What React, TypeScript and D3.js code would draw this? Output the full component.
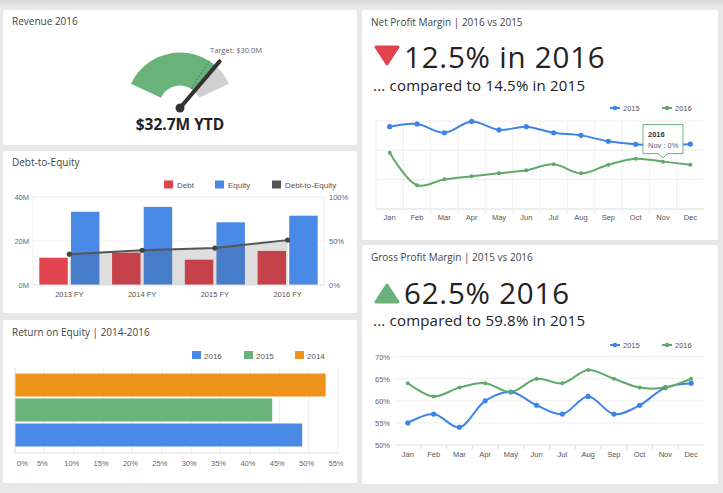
import React from 'react';
import * as d3 from 'd3';

// ---------- DATA ----------
const revenueValue = 32.7;
const revenueTarget = 30.0;
const revenueMax = 40;

const deCategories = ['2013 FY', '2014 FY', '2015 FY', '2016 FY'];
const debtValues = [12.4, 14.7, 11.5, 15.5];
const equityValues = [33.3, 35.5, 28.5, 31.5];
const deRatioValues = [35, 39.5, 42, 51];
const deLeftTicks = [0, 20, 40];
const deRightTicks = [0, 50, 100];

const roeSeries = ['2014', '2015', '2016'];
const roeValues = [52.9, 43.8, 48.9];
const roeTicks = [0, 5, 10, 15, 20, 25, 30, 35, 40, 45, 50, 55];

const months = ['Jan', 'Feb', 'Mar', 'Apr', 'May', 'Jun', 'Jul', 'Aug', 'Sep', 'Oct', 'Nov', 'Dec'];
const npm2015 = [15.61, 15.8, 15.2, 15.97, 15.39, 15.61, 15.2, 15.02, 14.62, 14.41, 14.3, 14.43];
const npm2016 = [13.84, 11.62, 12.02, 12.23, 12.43, 12.64, 13.05, 12.43, 13.02, 13.43, 13.23, 13.02];
const npmGrid = [10, 12, 14, 16];

const gpm2015 = [55, 57, 54, 60, 62, 59, 57, 61, 57, 59, 63, 64];
const gpm2016 = [64, 61, 63, 64, 62, 65, 64, 67, 65, 63, 63, 65];
const gpmTicks = [50, 55, 60, 65, 70];

// ---------- STYLE ----------
const FONT = '"Open Sans", sans-serif';
const AX = '"Liberation Sans", Arial, sans-serif';
const RED = '#e2444f';
const BLUE = '#4a8ae6';
const GREEN = '#69b27a';
const ORANGE = '#ef941b';
const LBLUE = '#3d84ea';
const LGREEN = '#5fa96c';

function Panel({ x, y, w, h }: any) {
  return <rect x={x} y={y} width={w} height={h} rx={2} fill="#fff" />;
}

function Gauge() {
  const cx = 180, cy = 106.5;
  const a = d3.scaleLinear().domain([0, revenueMax]).range([-65 * Math.PI / 180, 65 * Math.PI / 180]);
  const arc = d3.arc<any>().innerRadius(21).outerRadius(54);
  const green = arc({ startAngle: a(0), endAngle: a(revenueValue) } as any) as string;
  const gray = arc({ startAngle: a(revenueValue), endAngle: a(revenueMax) } as any) as string;
  const ta = a(revenueTarget), va = a(revenueValue);
  const pt = (ang: number, r: number) => [cx + r * Math.sin(ang), cy - r * Math.cos(ang)];
  const [t1x, t1y] = pt(ta, 21), [t2x, t2y] = pt(ta, 54);
  const [nx, ny] = pt(va, 60);
  return (
    <g>
      <path d={green} transform={`translate(${cx},${cy})`} fill={GREEN} />
      <path d={gray} transform={`translate(${cx},${cy})`} fill="#d0d0d0" />
      <line x1={t1x} y1={t1y} x2={t2x} y2={t2y} stroke="#4a6a50" strokeWidth={1} strokeDasharray="1.5,2" />
      <line x1={cx} y1={cy + 1.5} x2={nx} y2={ny} stroke="#333" strokeWidth={4} strokeLinecap="round" />
      <circle cx={cx} cy={cy + 1.5} r={4.5} fill="#333" />
      <text x={210} y={53} fontSize={7.5} fill="#666" fontFamily={FONT}>{`Target: $${revenueTarget.toFixed(1)}M`}</text>
      <text x={cx} y={130} fontSize={15.5} fontWeight={700} fill="#222" textAnchor="middle" fontFamily={FONT}>{`$${revenueValue}M YTD`}</text>
    </g>
  );
}

function DebtEquity() {
  const x = d3.scaleBand().domain(deCategories).range([33, 324]);
  const inner = d3.scaleBand().domain(['Debt', 'Equity']).range([0, x.bandwidth()]).paddingInner(0.1).paddingOuter(0.2);
  const yL = d3.scaleLinear().domain([0, 40]).range([285, 197]);
  const yR = d3.scaleLinear().domain([0, 100]).range([285, 197]);
  const pts: [number, number][] = deCategories.map((c, i) => [x(c)! + x.bandwidth() / 2, yR(deRatioValues[i])]);
  const area = d3.area<[number, number]>().x(d => d[0]).y0(yR(0)).y1(d => d[1]);
  const line = d3.line<[number, number]>().x(d => d[0]).y(d => d[1]);
  const legend = [
    { label: 'Debt', color: RED, x: 164 },
    { label: 'Equity', color: BLUE, x: 215 },
    { label: 'Debt-to-Equity', color: '#555', x: 272 },
  ];
  return (
    <g>
      <text x={12} y={166} fontSize={10} fill="#444" fontFamily={FONT}>Debt-to-Equity</text>
      {legend.map(l => (
        <g key={l.label}>
          <rect x={l.x} y={180.5} width={9} height={8} fill={l.color} />
          <text x={l.x + 13} y={188} fontSize={8} fill="#555" fontFamily={AX}>{l.label}</text>
        </g>
      ))}
      {deLeftTicks.map(t => (
        <g key={t}>
          {t > 0 && <line x1={33} x2={324} y1={yL(t)} y2={yL(t)} stroke="#eee" />}
          <text x={29} y={yL(t) + 3} fontSize={7.5} fill="#666" textAnchor="end" fontFamily={AX}>{`${t}M`}</text>
        </g>
      ))}
      {deRightTicks.map(t => (
        <text key={t} x={329} y={yR(t) + 3} fontSize={7.5} fill="#666" fontFamily={AX}>{`${t}%`}</text>
      ))}
      <line x1={33} x2={33} y1={197} y2={285} stroke="#eee" />
      <line x1={324} x2={324} y1={197} y2={285} stroke="#eee" />
      {deCategories.map((c, i) => (
        <g key={c}>
          <rect x={x(c)! + inner('Debt')!} y={yL(debtValues[i])} width={inner.bandwidth()} height={yL(0) - yL(debtValues[i])} fill={RED} />
          <rect x={x(c)! + inner('Equity')!} y={yL(equityValues[i])} width={inner.bandwidth()} height={yL(0) - yL(equityValues[i])} fill={BLUE} />
          <text x={x(c)! + x.bandwidth() / 2} y={297} fontSize={7.5} fill="#555" textAnchor="middle" fontFamily={AX}>{c}</text>
        </g>
      ))}
      <path d={area(pts)!} fill="rgba(60,60,60,0.17)" />
      <line x1={33} x2={324} y1={285} y2={285} stroke="#ddd" />
      <path d={line(pts)!} fill="none" stroke="#555" strokeWidth={2} />
      {pts.map((p, i) => <circle key={i} cx={p[0]} cy={p[1]} r={2.6} fill="#444" />)}
    </g>
  );
}

function ROE() {
  const x = d3.scaleLinear().domain([0, 55]).range([15, 338]);
  const y = d3.scaleBand().domain(roeSeries).range([373, 447]).paddingInner(0.08).paddingOuter(0.02);
  const colors: Record<string, string> = { '2014': ORANGE, '2015': GREEN, '2016': BLUE };
  const legend = [
    { label: '2016', x: 192 },
    { label: '2015', x: 244 },
    { label: '2014', x: 295 },
  ];
  return (
    <g>
      <text x={12} y={336} fontSize={10} fill="#444" fontFamily={FONT}>Return on Equity | 2014-2016</text>
      {legend.map(l => (
        <g key={l.label}>
          <rect x={l.x} y={351} width={9} height={8} fill={colors[l.label]} />
          <text x={l.x + 12} y={358.5} fontSize={8} fill="#555" fontFamily={AX}>{l.label}</text>
        </g>
      ))}
      {roeTicks.map(t => (
        <g key={t}>
          {t > 0 && <line x1={x(t)} x2={x(t)} y1={368} y2={453} stroke="#eee" />}
          <text x={t === 0 ? 17 : x(t) - 2} y={465.5} fontSize={7.5} fill="#666" textAnchor={t === 0 ? 'start' : 'middle'} fontFamily={AX}>{`${t}%`}</text>
        </g>
      ))}
      {roeSeries.map((s, i) => (
        <rect key={s} x={x(0)} y={y(s)} width={x(roeValues[i]) - x(0)} height={y.bandwidth()} fill={colors[s]} />
      ))}
      <line x1={15} x2={15} y1={368} y2={453} stroke="#ddd" />
      <line x1={15} x2={338} y1={453} y2={453} stroke="#ddd" />
    </g>
  );
}

function LineLegend({ y }: any) {
  const items = [
    { label: '2015', color: LBLUE, x: 610 },
    { label: '2016', color: LGREEN, x: 662 },
  ];
  return (
    <g>
      {items.map(it => (
        <g key={it.label}>
          <line x1={it.x} x2={it.x + 10} y1={y} y2={y} stroke={it.color} strokeWidth={2} />
          <circle cx={it.x + 5} cy={y} r={2.3} fill={it.color} />
          <text x={it.x + 13} y={y + 3} fontSize={7.5} fill="#555" fontFamily={AX}>{it.label}</text>
        </g>
      ))}
    </g>
  );
}

function NetProfit() {
  const x = d3.scaleBand().domain(months).range([376, 704]);
  const y = d3.scaleLinear().domain([10, 16]).range([209, 121]);
  const cx = (m: string) => x(m)! + x.bandwidth() / 2;
  const line = d3.line<number>().x((_, i) => cx(months[i])).y(d => y(d)).curve(d3.curveCatmullRom.alpha(0.5));
  const tx = cx('Nov'), ty = y(npm2016[10]);
  return (
    <g>
      <text x={371} y={26} fontSize={10} fill="#444" fontFamily={FONT}>Net Profit Margin | 2016 vs 2015</text>
      <path d="M376,47 L398,47 L387,64 Z" fill={RED} stroke={RED} strokeWidth={3} strokeLinejoin="round" />
      <text x={404} y={68} fontSize={29.5} letterSpacing={0.8} fill="#222" fontFamily={FONT}>12.5% in 2016</text>
      <text x={373} y={91} fontSize={15} letterSpacing={0.2} fill="#222" fontFamily={FONT}>... compared to 14.5% in 2015</text>
      <LineLegend y={108} />
      {npmGrid.map(t => (
        <line key={t} x1={376} x2={704} y1={y(t)} y2={y(t)} stroke={t === 10 ? '#ddd' : '#eee'} />
      ))}
      {months.map((m, i) => (
        <g key={m}>
          {i > 0 && <line x1={x(m)} x2={x(m)} y1={121} y2={214} stroke="#f0f0f0" />}
          <text x={cx(m)} y={220} fontSize={7.5} fill="#555" textAnchor="middle" fontFamily={AX}>{m}</text>
        </g>
      ))}
      <line x1={376} x2={376} y1={121} y2={209} stroke="#eee" />
      <path d={line(npm2015)!} fill="none" stroke={LBLUE} strokeWidth={2} />
      <path d={line(npm2016)!} fill="none" stroke={LGREEN} strokeWidth={2} />
      {npm2015.map((v, i) => <circle key={'a' + i} cx={cx(months[i])} cy={y(v)} r={2.6} fill={LBLUE} />)}
      {npm2016.map((v, i) => <circle key={'b' + i} cx={cx(months[i])} cy={y(v)} r={2} fill={LGREEN} />)}
      <g>
        <path d={`M${tx - 20},${ty - 37} h40 v29 h-15 l-5,4 l-5,-4 h-15 Z`} fill="rgba(255,255,255,0.95)" stroke={GREEN} strokeWidth={1} />
        <text x={tx - 15} y={ty - 25} fontSize={7.5} fontWeight={700} fill="#333" fontFamily={AX}>2016</text>
        <text x={tx - 15} y={ty - 14} fontSize={7.5} fill="#666" fontFamily={AX}>Nov : 0%</text>
      </g>
    </g>
  );
}

function GrossProfit() {
  const x = d3.scaleBand().domain(months).range([395, 704]);
  const y = d3.scaleLinear().domain([50, 70]).range([445, 356.7]);
  const cx = (m: string) => x(m)! + x.bandwidth() / 2;
  const line = d3.line<number>().x((_, i) => cx(months[i])).y(d => y(d)).curve(d3.curveCatmullRom.alpha(0.5));
  return (
    <g>
      <text x={371} y={261} fontSize={10} fill="#444" fontFamily={FONT}>Gross Profit Margin | 2015 vs 2016</text>
      <path d="M376,302 L398,302 L387,285 Z" fill={GREEN} stroke={GREEN} strokeWidth={3} strokeLinejoin="round" />
      <text x={404} y={304} fontSize={29.5} letterSpacing={0.8} fill="#222" fontFamily={FONT}>62.5% 2016</text>
      <text x={373} y={326} fontSize={15} letterSpacing={0.2} fill="#222" fontFamily={FONT}>... compared to 59.8% in 2015</text>
      <LineLegend y={345} />
      {gpmTicks.map(t => (
        <g key={t}>
          <line x1={395} x2={704} y1={y(t)} y2={y(t)} stroke={t === 50 ? '#ddd' : '#eee'} />
          <text x={390} y={y(t) + 3} fontSize={7.5} fill="#666" textAnchor="end" fontFamily={AX}>{`${t}%`}</text>
        </g>
      ))}
      {months.map((m, i) => (
        <g key={m}>
          {i > 0 && <line x1={x(m)} x2={x(m)} y1={445} y2={450} stroke="#ddd" />}
          <text x={cx(m)} y={456.5} fontSize={7.5} fill="#555" textAnchor="middle" fontFamily={AX}>{m}</text>
        </g>
      ))}
      <path d={line(gpm2015)!} fill="none" stroke={LBLUE} strokeWidth={2} />
      <path d={line(gpm2016)!} fill="none" stroke={LGREEN} strokeWidth={2} />
      {gpm2015.map((v, i) => <circle key={'a' + i} cx={cx(months[i])} cy={y(v)} r={2.6} fill={LBLUE} />)}
      {gpm2016.map((v, i) => <circle key={'b' + i} cx={cx(months[i])} cy={y(v)} r={2} fill={LGREEN} />)}
    </g>
  );
}

export default function App() {
  return (
    <svg width={723} height={493} style={{ position: 'fixed', left: 0, top: 0 }} fontFamily={FONT}>
      <defs>
        <linearGradient id="topfade" x1="0" y1="0" x2="0" y2="1">
          <stop offset="0" stopColor="#d8d8d8" />
          <stop offset="1" stopColor="#e8e8e8" />
        </linearGradient>
      </defs>
      <rect width={723} height={493} fill="#e8e8e8" />
      <rect width={723} height={8} fill="url(#topfade)" />
      <Panel x={3} y={10} w={354} h={135} />
      <Panel x={3} y={151} w={354} h={162} />
      <Panel x={3} y={320} w={354} h={163} />
      <Panel x={362} y={10} w={356} h={230} />
      <Panel x={362} y={245} w={356} h={239} />
      <text x={12} y={25} fontSize={10} fill="#444" fontFamily={FONT}>Revenue 2016</text>
      <Gauge />
      <DebtEquity />
      <ROE />
      <NetProfit />
      <GrossProfit />
    </svg>
  );
}
